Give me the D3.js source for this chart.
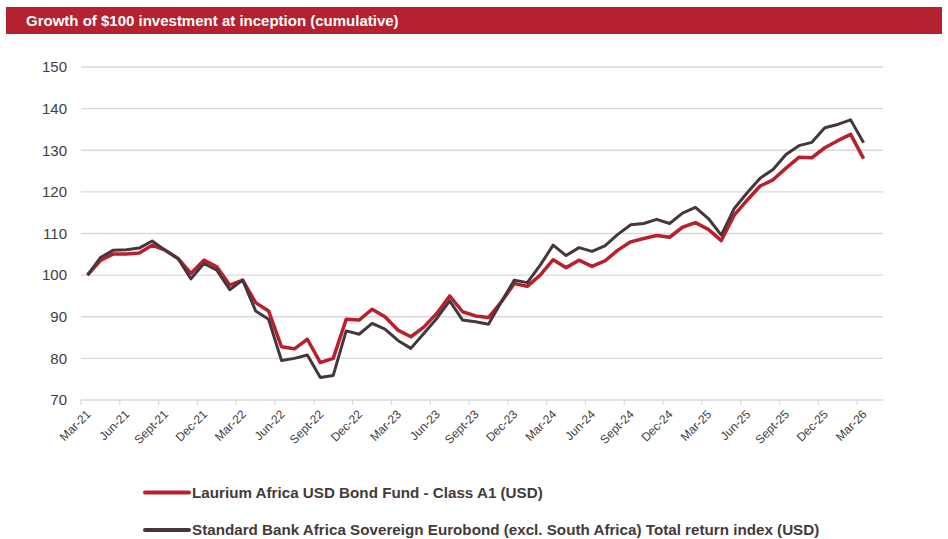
<!DOCTYPE html>
<meta charset="utf-8">
<style>
body { margin: 0; background: #fff; }
text { font-family: "Liberation Sans", Arial, sans-serif; }
.grid line { stroke: #d9d9d9; stroke-width: 1.3px; }
.ylab { font-size: 15px; fill: #404040; }
.xlab { font-size: 12px; fill: #404040; }
.legend text { font-size: 15.2px; font-weight: bold; fill: #45393b; }
</style>
<svg width="948" height="539"></svg>
<script src="https://d3js.org/d3.v7.min.js"></script>
<script>

// monthly categories, Mar-21 .. Apr-26 (last one is an empty slot on the axis)
var months = d3.timeMonths(new Date(2021, 2, 1), new Date(2026, 4, 1));

var tickLabels = ["Mar-21", "Jun-21", "Sept-21", "Dec-21", "Mar-22", "Jun-22", "Sept-22",
  "Dec-22", "Mar-23", "Jun-23", "Sept-23", "Dec-23", "Mar-24", "Jun-24", "Sept-24",
  "Dec-24", "Mar-25", "Jun-25", "Sept-25", "Dec-25", "Mar-26"];

var fund = [100, 103.5, 105.1, 105.1, 105.3, 107.2, 106, 104, 100.4, 103.6, 102, 97.6,
  98.8, 93.4, 91.4, 82.8, 82.3, 84.6, 79, 80, 89.4, 89.2, 91.8, 90,
  86.8, 85.2, 87.5, 90.8, 95, 91.2, 90.2, 89.8, 93.6, 98, 97.3, 100,
  103.7, 101.8, 103.6, 102.1, 103.4, 106, 108, 108.8, 109.5, 109.1, 111.5, 112.6,
  111, 108.3, 114.4, 118, 121.4, 122.9, 125.7, 128.3, 128.2, 130.6, 132.3, 133.8,
  128];

var benchmark = [100, 104.2, 106, 106.1, 106.5, 108.2, 106, 104, 99.1, 102.8, 101.2, 96.5,
  98.8, 91.4, 89.4, 79.5, 80, 80.8, 75.4, 75.9, 86.6, 85.8, 88.4, 87,
  84.3, 82.4, 86, 89.6, 93.8, 89.2, 88.8, 88.2, 93.6, 98.8, 98.2, 102.4,
  107.2, 104.7, 106.6, 105.7, 107, 109.8, 112.1, 112.4, 113.4, 112.4, 114.9, 116.3,
  113.6, 109.6, 116, 119.8, 123.3, 125.4, 129, 131.1, 131.9, 135.4, 136.2, 137.3,
  131.8];

var yTicks = [70, 80, 90, 100, 110, 120, 130, 140, 150];

var seriesNames = ["Laurium Africa USD Bond Fund - Class A1 (USD)",
  "Standard Bank Africa Sovereign Eurobond (excl. South Africa) Total return index (USD)"];
var seriesColors = ["#b8202e", "#45373a"];

var svg = d3.select("svg");

// header bar
svg.append("rect")
    .attr("x", 6).attr("y", 7)
    .attr("width", 936).attr("height", 27)
    .attr("fill", "#b5212e");
svg.append("text")
    .attr("x", 26).attr("y", 26)
    .attr("fill", "#fff")
    .style("font-size", "15px")
    .style("font-weight", "bold")
    .text("Growth of $100 investment at inception (cumulative)");

var x = d3.scaleBand()
    .domain(months.map(function(d, i) { return i; }))
    .range([81, 883]);

var y = d3.scaleLinear()
    .domain([70, 150])
    .range([400, 67]);

// gridlines
svg.append("g")
    .attr("class", "grid")
  .selectAll("line")
  .data(yTicks)
  .enter().append("line")
    .attr("x1", 81).attr("x2", 883)
    .attr("y1", function(d) { return y(d); })
    .attr("y2", function(d) { return y(d); });

svg.append("g")
  .selectAll("text")
  .data(yTicks)
  .enter().append("text")
    .attr("class", "ylab")
    .attr("x", 67)
    .attr("y", function(d) { return y(d); })
    .attr("dy", "0.35em")
    .attr("text-anchor", "end")
    .text(function(d) { return d; });

// x ticks every 3 months, on category boundaries
var tickIdx = tickLabels.map(function(d, i) { return i * 3; });

svg.append("g")
  .selectAll("line")
  .data(tickIdx)
  .enter().append("line")
    .attr("x1", function(d) { return x(d); })
    .attr("x2", function(d) { return x(d); })
    .attr("y1", 400).attr("y2", 405)
    .attr("stroke", "#d9d9d9")
    .attr("stroke-width", 1.3);

svg.append("g")
  .selectAll("text")
  .data(tickIdx)
  .enter().append("text")
    .attr("class", "xlab")
    .attr("text-anchor", "end")
    .attr("transform", function(d) {
      return "translate(" + (x(d) + x.bandwidth() / 2 + 1) + ",412) rotate(-45)";
    })
    .attr("dy", "0.35em")
    .text(function(d, i) { return tickLabels[i]; });

var line = d3.line()
    .x(function(d, i) { return x(i) + x.bandwidth() / 2; })
    .y(function(d) { return y(d); });

svg.append("path")
    .datum(fund)
    .attr("fill", "none")
    .attr("stroke", seriesColors[0])
    .attr("stroke-width", 3.5)
    .attr("stroke-linejoin", "round")
    .attr("d", line);

svg.append("path")
    .datum(benchmark)
    .attr("fill", "none")
    .attr("stroke", seriesColors[1])
    .attr("stroke-width", 3)
    .attr("stroke-linejoin", "round")
    .attr("d", line);

// legend
var legend = svg.append("g")
    .attr("class", "legend")
  .selectAll("g")
  .data(seriesNames)
  .enter().append("g")
    .attr("transform", function(d, i) { return "translate(0," + (492.5 + i * 37.5) + ")"; });

legend.append("line")
    .attr("x1", 145).attr("x2", 189)
    .attr("stroke", function(d, i) { return seriesColors[i]; })
    .attr("stroke-width", 4)
    .attr("stroke-linecap", "round");

legend.append("text")
    .attr("x", 192)
    .attr("dy", "0.35em")
    .text(function(d) { return d; });

</script>
